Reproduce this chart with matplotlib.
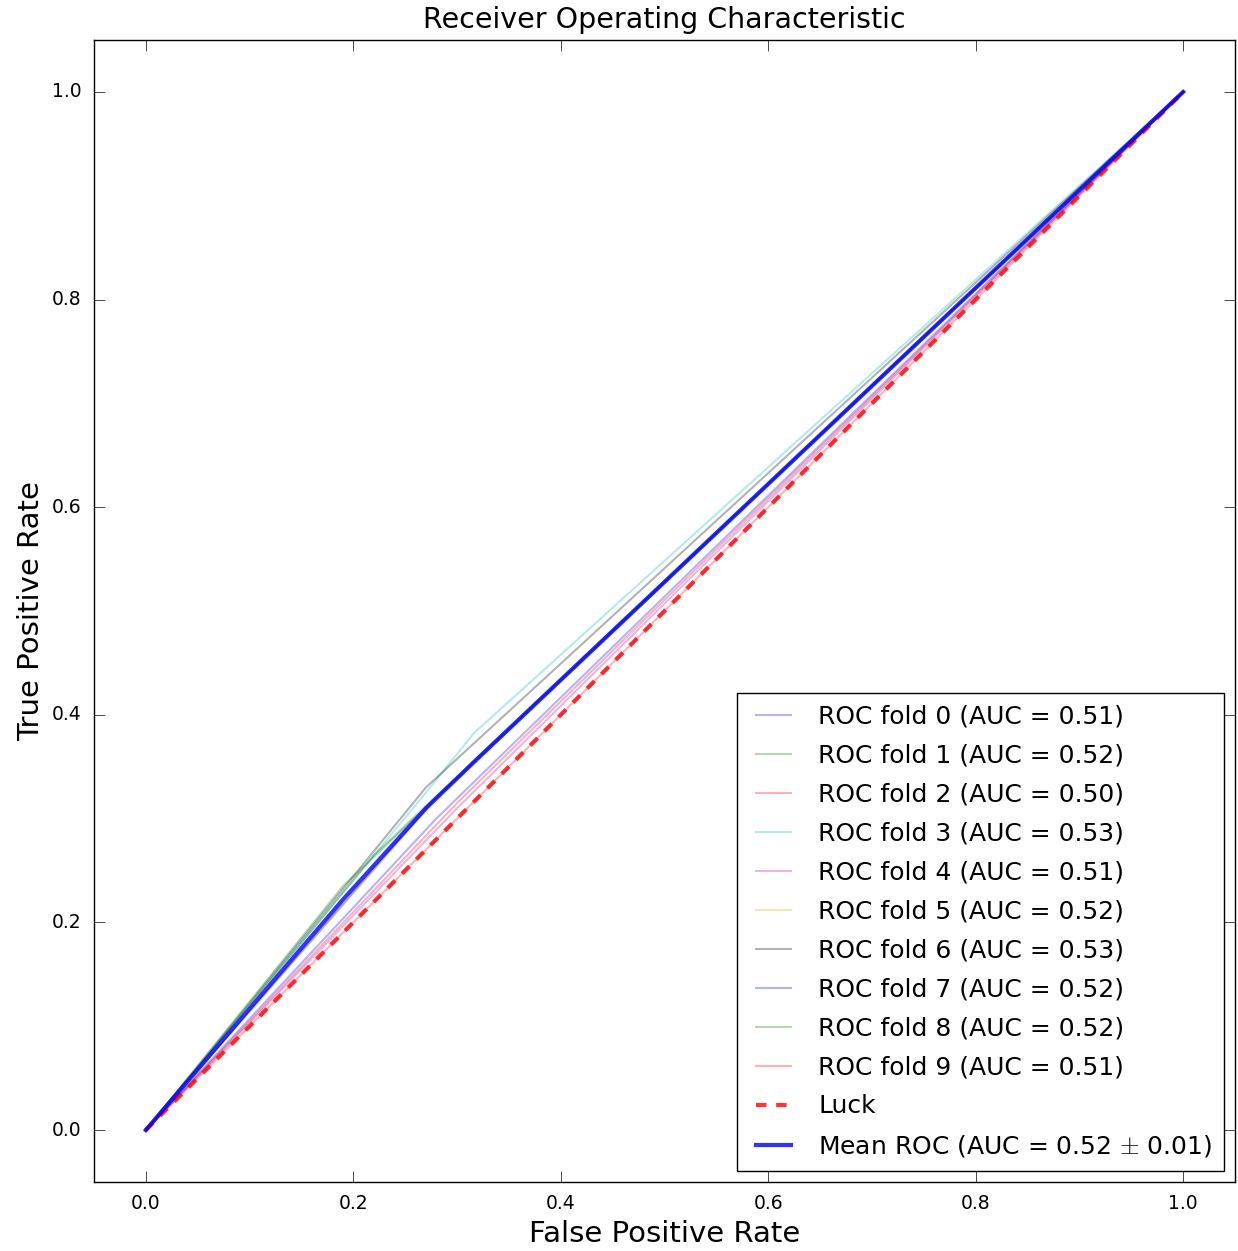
import numpy as np
import matplotlib
matplotlib.use('Agg')
import matplotlib.pyplot as plt

plt.style.use('classic')

# per-fold ROC points (fpr, tpr)
fold_fpr = [
    [0.0, 0.28, 1.0],
    [0.0, 0.19, 1.0],
    [0.0, 0.30, 1.0],
    [0.0, 0.27, 0.316, 1.0],
    [0.0, 0.30, 1.0],
    [0.0, 0.27, 1.0],
    [0.0, 0.27, 1.0],
    [0.0, 0.28, 1.0],
    [0.0, 0.22, 1.0],
    [0.0, 0.30, 1.0],
]
fold_tpr = [
    [0.0, 0.30, 1.0],
    [0.0, 0.235, 1.0],
    [0.0, 0.30, 1.0],
    [0.0, 0.325, 0.382, 1.0],
    [0.0, 0.31, 1.0],
    [0.0, 0.31, 1.0],
    [0.0, 0.33, 1.0],
    [0.0, 0.32, 1.0],
    [0.0, 0.265, 1.0],
    [0.0, 0.315, 1.0],
]
fold_auc = [0.51, 0.52, 0.50, 0.53, 0.51, 0.52, 0.53, 0.52, 0.52, 0.51]
fold_colors = ['b', 'g', 'r', 'c', 'm', 'y', 'k', 'b', 'g', 'r']

mean_fpr = [0.0, 0.19, 0.27, 0.32, 1.0]
mean_tpr = [0.0, 0.222, 0.31, 0.358, 1.0]
mean_auc = 0.52
std_auc = 0.01

fig = plt.figure(figsize=(12.38, 12.51), dpi=100, facecolor='white')
ax = fig.add_axes([0.0759, 0.0552, 0.9217, 0.9128])

for i in range(len(fold_auc)):
    ax.plot(fold_fpr[i], fold_tpr[i], color=fold_colors[i], lw=1.5, alpha=0.3,
            label='ROC fold %d (AUC = %0.2f)' % (i, fold_auc[i]))

ax.plot([0, 1], [0, 1], '--', color='r', lw=3, alpha=0.8, dashes=(7.5, 7),
        label='Luck')
ax.plot(mean_fpr, mean_tpr, color='b', lw=3, alpha=0.8,
        label=r'Mean ROC (AUC = %0.2f $\pm$ %0.2f)' % (mean_auc, std_auc))

ax.set_xlim([-0.05, 1.05])
ax.set_ylim([-0.05, 1.05])
ax.set_xticks([0.0, 0.2, 0.4, 0.6, 0.8, 1.0])
ax.set_yticks([0.0, 0.2, 0.4, 0.6, 0.8, 1.0])
ax.tick_params(labelsize=13.5, length=8, pad=9)
ax.set_xlabel('False Positive Rate', fontsize=21)
ax.set_ylabel('True Positive Rate', fontsize=21)
ax.set_title('Receiver Operating Characteristic', fontsize=20.5, pad=9)
ax.legend(loc='lower right', fontsize=18, handlelength=2.0, handletextpad=0.8,
          labelspacing=0.6, borderpad=0.45, borderaxespad=0.45, fancybox=False)

plt.savefig('out.png', dpi=100, facecolor='white')
